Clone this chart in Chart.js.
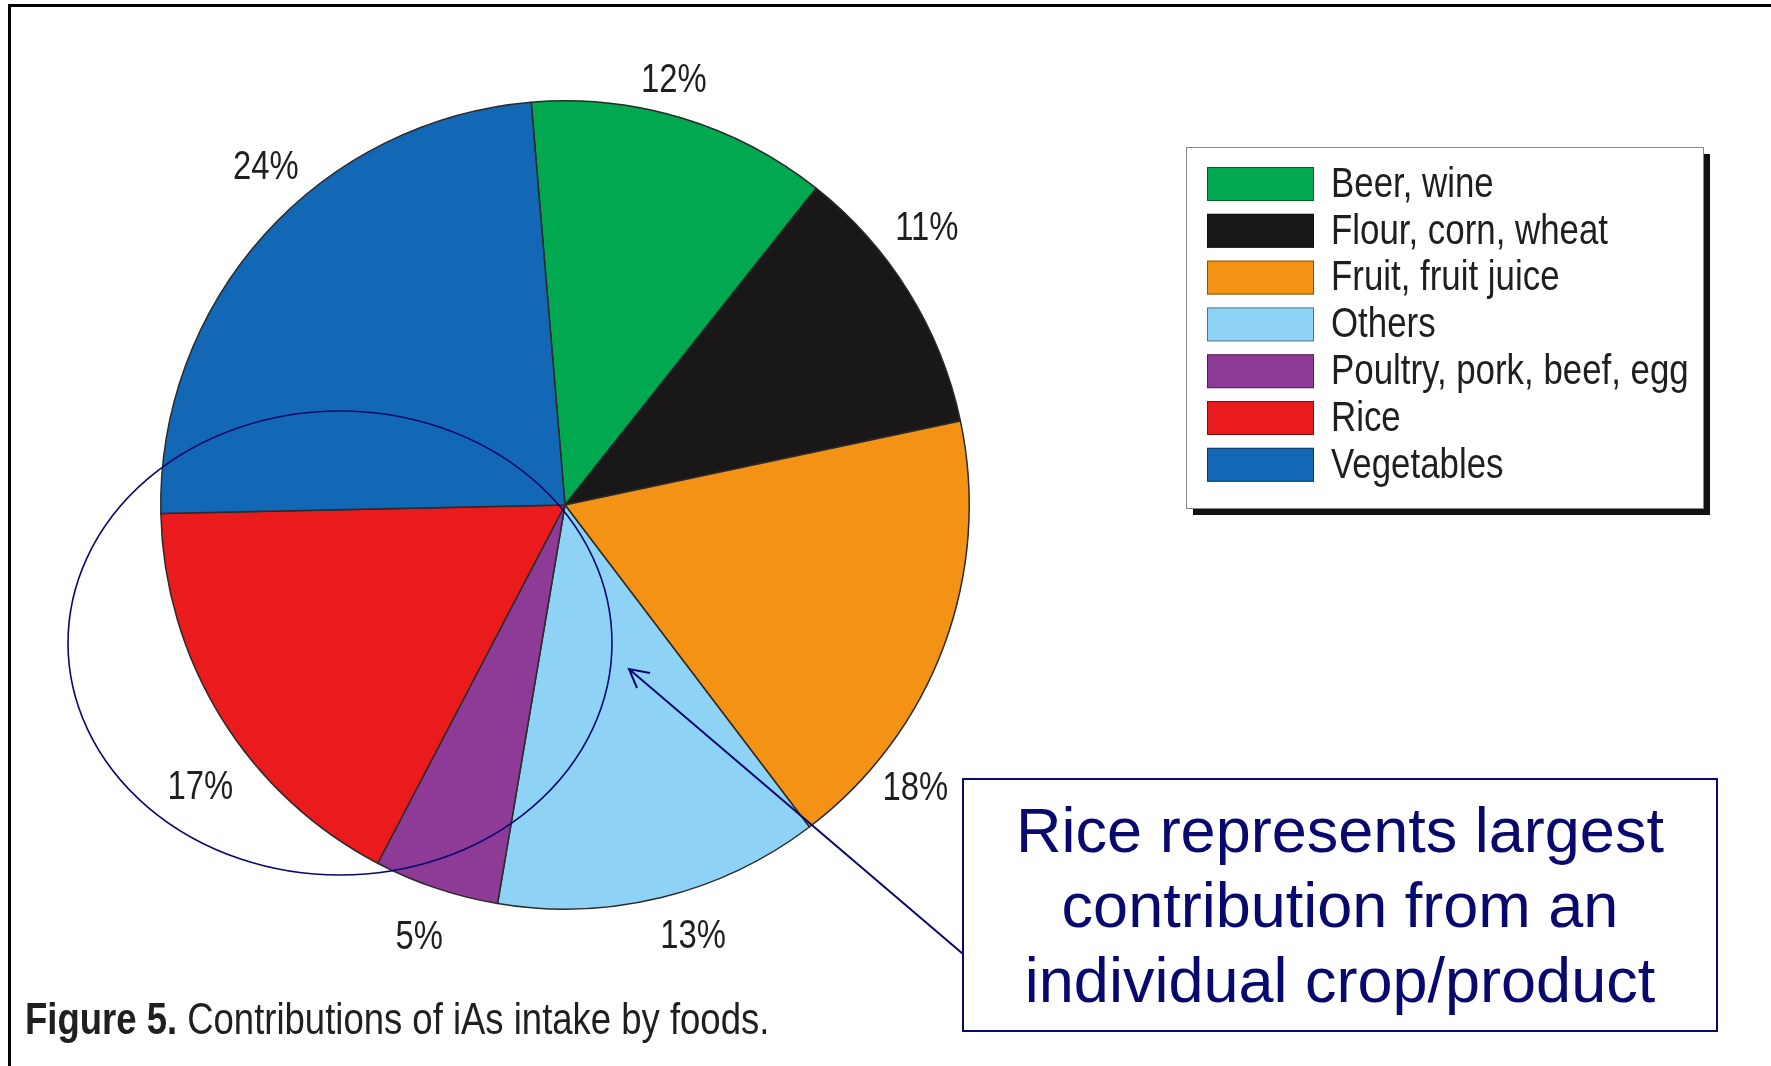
<!DOCTYPE html>
<html>
<head>
<meta charset="utf-8">
<script src="https://cdn.jsdelivr.net/npm/chart.js@4/dist/chart.umd.min.js"></script>
<style>
  html, body { margin: 0; padding: 0; background: #fff; }
  #wrap { position: relative; width: 1771px; height: 1066px; overflow: hidden; }
</style>
</head>
<body>
<div id="wrap"><canvas id="pie"></canvas></div>
<script>
// data
const foods = ["Beer, wine", "Flour, corn, wheat", "Fruit, fruit juice", "Others",
               "Poultry, pork, beef, egg", "Rice", "Vegetables"]
const shares = [12, 11, 18, 13, 5, 17, 24]
const shareLabels = ["12%", "11%", "18%", "13%", "5%", "17%", "24%"]
const caption = ["Figure 5.", " Contributions of iAs intake by foods."]
const noteLines = ["Rice represents largest", "contribution from an", "individual crop/product"]

// styling
const colors = ["#00a84f", "#1a1718", "#f39214", "#8ed3f6", "#8e3b97", "#e91b1c", "#1368b6"]
const labelNudge = [-2.4, -5.5, 18.6, -2.7, 0, -6, 6.4] // degrees, labels sit off-centre in the original
const labelPush = [1.083, 1.125, 1.115, 1.115, 1.13, 1.142, 1.115] // times the outer radius
const navy = "#08086e"
const SQUEEZE = 0.82 // no narrow font installed, so squeeze Liberation Sans

// draw condensed text, returns its drawn width
function narrowText(ctx, text, x, y, size, weight, align) {
  ctx.save()
  ctx.translate(x, y)
  ctx.scale(SQUEEZE, 1)
  ctx.font = (weight || "normal") + " " + size + 'px "Liberation Sans", Arial, sans-serif'
  ctx.textAlign = align || "left"
  ctx.fillText(text, 0, 0)
  const w = ctx.measureText(text).width * SQUEEZE
  ctx.restore()
  return w
}

const pctLabels = {
  id: "pctLabels",
  afterDatasetsDraw(chart) {
    const ctx = chart.ctx
    const arcs = chart.getDatasetMeta(0).data
    ctx.save()
    ctx.fillStyle = "#1f1f1f"
    ctx.textBaseline = "middle"
    arcs.forEach((arc, i) => {
      const a = (arc.startAngle + arc.endAngle) / 2 + labelNudge[i] * Math.PI / 180
      const r = arc.outerRadius * labelPush[i]
      narrowText(ctx, shareLabels[i], arc.x + Math.cos(a) * r, arc.y + Math.sin(a) * r, 40, "normal", "center")
    })
    ctx.restore()
  }
}

const boxLegend = {
  id: "boxLegend",
  afterDraw(chart) {
    const ctx = chart.ctx
    const b = { x: 1186, y: 147, w: 517, h: 361 }
    ctx.save()
    ctx.fillStyle = "#111"
    ctx.fillRect(b.x + 7, b.y + 7, b.w, b.h)
    ctx.fillStyle = "#fff"
    ctx.fillRect(b.x, b.y, b.w, b.h)
    ctx.strokeStyle = "#888"
    ctx.lineWidth = 1
    ctx.strokeRect(b.x + 0.5, b.y + 0.5, b.w, b.h)
    ctx.textBaseline = "middle"
    chart.data.labels.forEach((lab, i) => {
      const cy = 184 + i * 46.8
      ctx.fillStyle = chart.data.datasets[0].backgroundColor[i]
      ctx.fillRect(1207, cy - 17, 107, 34)
      ctx.strokeStyle = "rgba(0,0,0,0.45)"
      ctx.strokeRect(1207.5, cy - 16.5, 106, 33)
      ctx.fillStyle = "#1f1f1f"
      narrowText(ctx, lab, 1331, cy + 1, 42.5)
    })
    ctx.restore()
  }
}

const extras = {
  id: "extras",
  afterDraw(chart) {
    const ctx = chart.ctx
    ctx.save()
    // frame lines
    ctx.fillStyle = "#000"
    ctx.fillRect(8, 4, 1771, 3)
    ctx.fillRect(8, 4, 3, 1066)

    // caption
    ctx.fillStyle = "#1f1f1f"
    ctx.textBaseline = "alphabetic"
    const w = narrowText(ctx, caption[0], 25, 1034, 44.5, "bold")
    narrowText(ctx, caption[1], 25 + w, 1034, 44.5)

    // ellipse around rice
    ctx.strokeStyle = navy
    ctx.lineWidth = 1.6
    ctx.beginPath()
    ctx.ellipse(340, 643, 272, 232, 0, 0, Math.PI * 2)
    ctx.stroke()

    // arrow
    ctx.beginPath()
    ctx.moveTo(963, 954)
    ctx.lineTo(629, 669)
    ctx.moveTo(650, 673)
    ctx.lineTo(629, 669)
    ctx.lineTo(637, 688)
    ctx.lineWidth = 2
    ctx.stroke()

    // note box
    ctx.fillStyle = "#fff"
    ctx.fillRect(963, 779, 754, 252)
    ctx.strokeStyle = navy
    ctx.lineWidth = 2
    ctx.strokeRect(963, 779, 754, 252)
    ctx.fillStyle = navy
    ctx.font = '63px "Liberation Sans", Arial, sans-serif'
    ctx.textAlign = "center"
    ctx.textBaseline = "middle"
    noteLines.forEach((t, i) => ctx.fillText(t, 1340, 835 + i * 75))
    ctx.restore()
  }
}

new Chart(document.getElementById("pie"), {
  type: "pie",
  data: {
    labels: foods,
    datasets: [{
      data: shares,
      backgroundColor: colors,
      borderColor: "#2a2a2a",
      borderWidth: 1.5
    }]
  },
  options: {
    responsive: true,
    maintainAspectRatio: false,
    animation: false,
    events: [],
    rotation: -4.8,
    layout: { padding: { left: 160, top: 100, right: 801, bottom: 156 } },
    plugins: {
      legend: { display: false },
      tooltip: { enabled: false }
    }
  },
  plugins: [pctLabels, boxLegend, extras]
})
</script>
</body>
</html>
